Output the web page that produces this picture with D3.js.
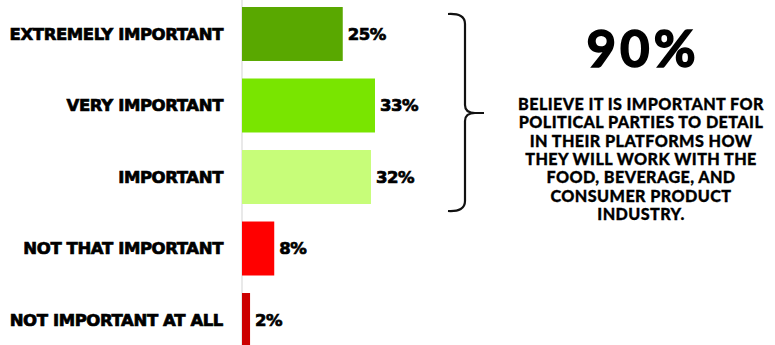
<!DOCTYPE html>
<html>
<head>
<meta charset="utf-8">
<script src="https://cdn.jsdelivr.net/npm/d3@7"></script>
<style>
  html, body { margin: 0; padding: 0; background: #fff; }
  svg { display: block; }
</style>
</head>
<body>
<svg id="chart" width="775" height="345"></svg>
<script>
// survey answers, top to bottom
const categories = [
  'EXTREMELY IMPORTANT',
  'VERY IMPORTANT',
  'IMPORTANT',
  'NOT THAT IMPORTANT',
  'NOT IMPORTANT AT ALL'
];
const values = [25, 33, 32, 8, 2];
const barColors = ['#59a800', '#79e500', '#c7fd79', '#ff0000', '#cc0000'];

const headline = '90%';
const noteLines = [
  'BELIEVE IT IS IMPORTANT FOR',
  'POLITICAL PARTIES TO DETAIL',
  'IN THEIR PLATFORMS HOW',
  'THEY WILL WORK WITH THE',
  'FOOD, BEVERAGE, AND',
  'CONSUMER PRODUCT',
  'INDUSTRY.'
];

const svg = d3.select('#chart'),
      width = +svg.attr('width'),
      height = +svg.attr('height');

const x = d3.scaleLinear()
  .domain([0, 100])
  .range([242, 645]);

const y = d3.scaleBand()
  .domain(categories)
  .range([7, 347])
  .paddingInner(0.245)
  .paddingOuter(0);

const labelFont = '"DejaVu Sans", sans-serif';

// baseline
svg.append('line')
  .attr('x1', x(0)).attr('x2', x(0))
  .attr('y1', 0).attr('y2', height)
  .attr('stroke', '#e2e2e2')
  .attr('stroke-width', 1.5);

svg.selectAll('rect.bar')
  .data(values)
  .enter().append('rect')
  .attr('class', 'bar')
  .attr('x', x(0))
  .attr('y', (d, i) => y(categories[i]))
  .attr('width', (d) => x(d) - x(0))
  .attr('height', y.bandwidth())
  .attr('fill', (d, i) => barColors[i]);

// category labels (a thin stroke makes them look as heavy as the original)
svg.selectAll('text.cat')
  .data(categories)
  .enter().append('text')
  .attr('class', 'cat')
  .attr('x', 223)
  .attr('y', (d) => y(d) + y.bandwidth() / 2)
  .attr('dy', '0.36em')
  .attr('text-anchor', 'end')
  .style('font-family', labelFont)
  .style('font-weight', 'bold')
  .style('font-size', '16.5px')
  .style('letter-spacing', '-0.4px')
  .attr('fill', '#000')
  .attr('stroke', '#000')
  .attr('stroke-width', 0.7)
  .text((d) => d);

// value labels
svg.selectAll('text.val')
  .data(values)
  .enter().append('text')
  .attr('class', 'val')
  .attr('x', (d) => x(d) + 5)
  .attr('y', (d, i) => y(categories[i]) + y.bandwidth() / 2)
  .attr('dy', '0.36em')
  .style('font-family', labelFont)
  .style('font-weight', 'bold')
  .style('font-size', '16.5px')
  .style('letter-spacing', '-0.5px')
  .attr('fill', '#000')
  .attr('stroke', '#000')
  .attr('stroke-width', 0.7)
  .text((d) => d + '%');

// curly bracket round the top three bars
const bTop = 14, bBot = 211, bMid = 113, bx = 465;
const bracket = d3.path();
bracket.moveTo(448, bTop);
bracket.quadraticCurveTo(bx, bTop - 1, bx, bTop + 10);
bracket.lineTo(bx, bMid - 8);
bracket.quadraticCurveTo(bx, bMid, bx + 10, bMid);
bracket.lineTo(484, bMid);
bracket.moveTo(bx + 10, bMid);
bracket.quadraticCurveTo(bx, bMid, bx, bMid + 8);
bracket.lineTo(bx, bBot - 10);
bracket.quadraticCurveTo(bx, bBot + 1, 448, bBot);

svg.append('path')
  .attr('d', bracket.toString())
  .attr('fill', 'none')
  .attr('stroke', '#111')
  .attr('stroke-width', 2.2);

const cx = 641;
svg.append('text')
  .attr('x', cx + 2)
  .attr('y', 67)
  .attr('text-anchor', 'middle')
  .style('font-family', 'Lato, sans-serif')
  .style('font-weight', 'bold')
  .style('font-size', '51px')
  .style('letter-spacing', '4px')
  .attr('fill', '#000')
  .attr('stroke', '#000')
  .attr('stroke-width', 1.6)
  .text(headline);

svg.append('g')
  .selectAll('text')
  .data(noteLines)
  .enter().append('text')
  .attr('x', cx)
  .attr('y', (d, i) => 110 + i * 18.3)
  .attr('text-anchor', 'middle')
  .style('font-family', 'Lato, sans-serif')
  .style('font-weight', '900')
  .style('font-size', '16.2px')
  .style('letter-spacing', '0.4px')
  .attr('fill', '#000')
  .attr('stroke', '#000')
  .attr('stroke-width', 0.3)
  .text((d) => d);
</script>
</body>
</html>
